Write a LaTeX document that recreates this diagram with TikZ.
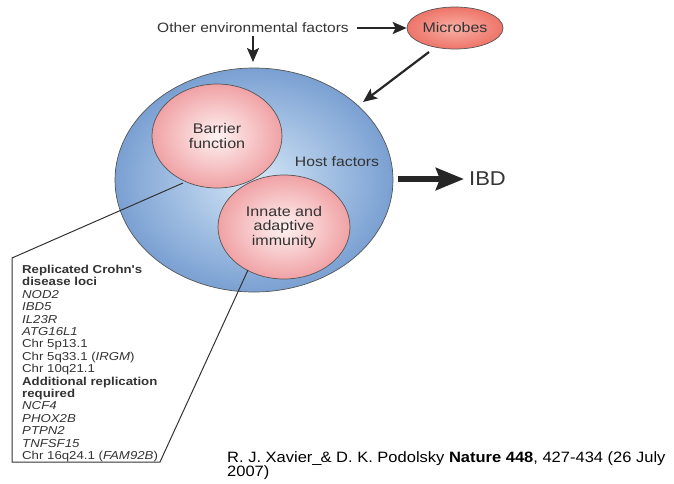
\documentclass[tikz,border=0pt]{standalone}
\usepackage{fontspec}
\setmainfont{Liberation Sans}
\newfontfamily\widesans[FakeStretch=1.15]{Liberation Sans}
\newfontfamily\citesans[FakeStretch=1.1]{Liberation Sans}
\usetikzlibrary{shapes.geometric,arrows.meta}
\definecolor{txt}{HTML}{333333}
\definecolor{edge}{HTML}{555555}
\definecolor{blueout}{HTML}{7AA0D2}
\definecolor{bluein}{HTML}{D4E6F7}
\definecolor{pinkout}{HTML}{F0A2A5}
\definecolor{pinkin}{HTML}{FFF2F2}
\definecolor{salout}{HTML}{EE7468}
\definecolor{salin}{HTML}{F8B0A6}
\tikzset{
  bigarrow/.style={line width=2.2pt, draw=black!85, -{Stealth[length=14pt,width=12pt,inset=3pt]}},
  pinkell/.style={ellipse, draw=edge, line width=0.7pt, inner sep=0pt, shading=radial, inner color=pinkin, outer color=pinkout, align=center, text=txt, font=\widesans\fontsize{14}{14.6}\selectfont},
  boxline/.style={draw=black!80, line width=1pt},
  lbl/.style={text=txt, inner sep=0pt}
}
\begin{document}
\begin{tikzpicture}[x=1pt,y=-1pt]
\useasboundingbox (0,0) rectangle (674,483);
% host ellipse
\node[ellipse, draw=edge, line width=0.7pt, minimum width=278pt, minimum height=224pt, inner sep=0pt, shading=radial, inner color=bluein, outer color=blueout] (host) at (254,180) {};
\node[pinkell, minimum width=130pt, minimum height=104pt] (barrier) at (217,136) {Barrier\\function};
\node[pinkell, minimum width=132pt, minimum height=104pt] (innate) at (284,227) {Innate and\\adaptive\\immunity};
\node[lbl, font=\widesans\fontsize{13.7}{16}\selectfont] (hostlbl) at (337,162) {Host factors};
% microbes
\node[ellipse, draw=edge, line width=0.7pt, minimum width=96pt, minimum height=42pt, inner sep=0pt, shading=radial, inner color=salin, outer color=salout, text=txt, font=\widesans\fontsize{13.9}{16}\selectfont] (microbes) at (455,28) {Microbes};
\node[lbl, font=\widesans\fontsize{13.5}{16}\selectfont] (env) at (253,28) {Other environmental factors};
\coordinate (envto) at (253,62);
\coordinate (mfrom) at (429,52);
\coordinate (mto) at (363,102);
\draw[bigarrow] (env.south) ++(0,3) -- (envto);
\draw[bigarrow] (env.east) ++(8,0) -- (microbes.west);
\draw[bigarrow] (mfrom) -- (mto);
% IBD
\node[lbl, font=\citesans\fontsize{20}{22}\selectfont, anchor=west] (ibd) at (469,179) {IBD};
\coordinate (ibdfrom) at (398,179);
\draw[line width=6pt, draw=black!85, -{Stealth[length=28pt,width=22pt,inset=4pt]}] (ibdfrom) -- ([xshift=-5pt]ibd.west);
% gene box
\coordinate (b1) at (183,183);
\coordinate (p1) at (12,258);
\coordinate (p2) at (12,462);
\coordinate (p3) at (160,462);
\coordinate (b2) at (248,270);
\draw[boxline, line join=miter] (b1) -- (p1) -- (p2) -- (p3) -- (b2);
\node[lbl, anchor=north west, align=left, font=\widesans\fontsize{11.5}{12.4}\selectfont] (genes) at (22,265) {%
\textbf{Replicated Crohn's}\\
\textbf{disease loci}\\
\textit{NOD2}\\
\textit{IBD5}\\
\textit{IL23R}\\
\textit{ATG16L1}\\
Chr 5p13.1\\
Chr 5q33.1 (\textit{IRGM})\\
Chr 10q21.1\\
\textbf{Additional replication}\\
\textbf{required}\\
\textit{NCF4}\\
\textit{PHOX2B}\\
\textit{PTPN2}\\
\textit{TNFSF15}\\
Chr 16q24.1 (\textit{FAM92B})};
% citation
\node[inner sep=0pt, anchor=north west, align=left, text=black, font=\citesans\fontsize{15}{14.8}\selectfont] (cite) at (227,451) {R. J. Xavier\_\kern-1pt\& D. K. Podolsky \textbf{Nature 448}, 427-434 (26 July\\2007)};
\end{tikzpicture}
\end{document}
